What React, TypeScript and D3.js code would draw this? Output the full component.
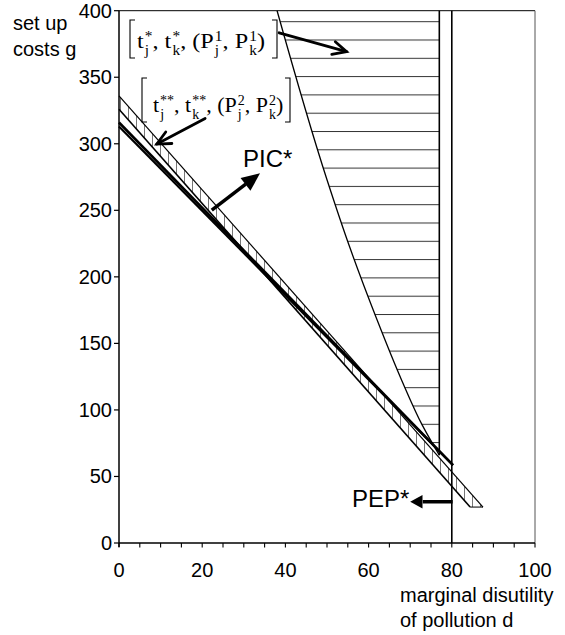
import React from 'react';
import * as d3 from 'd3';

// axis ticks
const xTicks = [0, 20, 40, 60, 80, 100];
const xMinorTicks = [0, 5, 10, 15, 20, 25, 30, 35, 40, 45, 50, 55, 60, 65, 70, 75, 80, 85, 90, 95, 100];
const yTicks = [0, 50, 100, 150, 200, 250, 300, 350, 400];

// steep boundary of the horizontally hatched set
const steepD = [38, 50, 55.5, 62, 68, 73, 77];
const steepG = [400, 273, 222, 168, 122, 88, 66];
const hatchRightD = 77;
const pepD = 80;

// hatched band (second set)
const bandUpperD = [0, 87.5];
const bandUpperG = [336, 27];
const bandLowerD = [0, 84.4];
const bandLowerG = [326, 27];

// PIC* lines
const picAD = [0, 80.3];
const picAG = [316, 58.5];
const picBD = [0, 80.3];
const picBG = [313, 58.5];

// arrows: [fromD, fromG, toD, toG]
const arrowSet1 = [38.5, 383.4, 54.7, 369.2];
const arrowSet2 = [20.7, 319, 9.1, 299.8];
const arrowPic = [22.3, 250.2, 33.9, 277.8];
const arrowPep = [80.2, 31, 70, 31];

const W = 565;
const H = 635;
const sans = 'Liberation Sans, Arial, Helvetica, sans-serif';
const serif = 'Liberation Serif, Times New Roman, serif';

const x = d3.scaleLinear().domain([0, 100]).range([119, 535]);
const y = d3.scaleLinear().domain([0, 400]).range([543, 10.7]);

const zip = (ds: number[], gs: number[]) => ds.map((d, i) => [d, gs[i]] as [number, number]);
const line = d3.line<[number, number]>().x(p => x(p[0])).y(p => y(p[1]));

type Seg = string | { sub: string; sup: string };
const scriptW: Record<string, number> = { j: 0.278, k: 0.5, '*': 0.5, '1': 0.5, '2': 0.5 };
const wOf = (s: string, fs: number) => s.split('').reduce((a, c) => a + (scriptW[c] ?? 0.5) * fs, 0);

const label1: Seg[] = ['t', { sub: 'j', sup: '*' }, ', t', { sub: 'k', sup: '*' }, ', (P', { sub: 'j', sup: '1' }, ', P', { sub: 'k', sup: '1' }, ')'];
const label2: Seg[] = ['t', { sub: 'j', sup: '**' }, ', t', { sub: 'k', sup: '**' }, ', (P', { sub: 'j', sup: '2' }, ', P', { sub: 'k', sup: '2' }, ')'];

function MathLabel({ segs, tx, ty, sx }: { segs: Seg[]; tx: number; ty: number; sx: number }) {
  const fs = 22;
  const ss = 14;
  const spans: React.ReactNode[] = [];
  let pending = 0;
  segs.forEach((s, i) => {
    if (typeof s === 'string') {
      spans.push(<tspan key={i} y={0} dx={pending} fontSize={fs}>{s}</tspan>);
      pending = 0;
    } else {
      const wSub = wOf(s.sub, ss);
      const wSup = wOf(s.sup, ss);
      spans.push(<tspan key={i + 'b'} y={7} dx={pending + 1} fontSize={ss}>{s.sub}</tspan>);
      spans.push(<tspan key={i + 'p'} y={-7} dx={-wSub} fontSize={ss}>{s.sup}</tspan>);
      pending = Math.max(0, wSub - wSup);
    }
  });
  return (
    <g transform={`translate(${tx},${ty}) scale(${sx},1)`}>
      <text x={0} y={0} fontFamily={serif} fill="#000" style={{ whiteSpace: 'pre' }}>{spans}</text>
    </g>
  );
}

function Bracket({ x0, x1, y0, y1 }: { x0: number; x1: number; y0: number; y1: number }) {
  const s = 5;
  return (
    <g stroke="#000" strokeWidth={1.1} fill="none">
      <path d={`M${x0 + s},${y0}H${x0}V${y1}H${x0 + s}`} />
      <path d={`M${x1 - s},${y0}H${x1}V${y1}H${x1 - s}`} />
    </g>
  );
}

function Arrow({ a, filled, width, head, spread }: { a: number[]; filled: boolean; width: number; head: number; spread: number }) {
  const x0 = x(a[0]), y0 = y(a[1]), x1 = x(a[2]), y1 = y(a[3]);
  const ang = Math.atan2(y1 - y0, x1 - x0);
  const hx = (t: number) => x1 - head * Math.cos(ang + t);
  const hy = (t: number) => y1 - head * Math.sin(ang + t);
  if (filled) {
    const bx = x1 - head * 0.9 * Math.cos(ang);
    const by = y1 - head * 0.9 * Math.sin(ang);
    return (
      <g>
        <line x1={x0} y1={y0} x2={bx} y2={by} stroke="#000" strokeWidth={width} />
        <path d={`M${x1},${y1}L${hx(spread)},${hy(spread)}L${hx(-spread)},${hy(-spread)}Z`} fill="#000" />
      </g>
    );
  }
  return (
    <g stroke="#000" strokeWidth={width} fill="none" strokeLinecap="round">
      <line x1={x0} y1={y0} x2={x1} y2={y1} />
      <path d={`M${hx(spread)},${hy(spread)}L${x1},${y1}L${hx(-spread)},${hy(-spread)}`} />
    </g>
  );
}

export default function App() {
  const steepPts = zip(steepD, steepG);
  const steepPath = d3.line<[number, number]>().x(p => x(p[0])).y(p => y(p[1])).curve(d3.curveMonotoneY)(steepPts) || '';
  const regionPath = steepPath + `L${x(hatchRightD)},${y(400)}Z`;
  const up = zip(bandUpperD, bandUpperG);
  const lo = zip(bandLowerD, bandLowerG);
  const bandPath = line([...up, lo[1], lo[0]]) + 'Z';

  return (
    <svg width={W} height={H} style={{ position: 'absolute', left: 0, top: 0, background: '#fff' }}>
      <defs>
        <pattern id="hatchH" patternUnits="userSpaceOnUse" x={0} y={21.2} width={10} height={18.3}>
          <line x1={0} x2={10} y1={0.5} y2={0.5} stroke="#333" strokeWidth={1} />
        </pattern>
        <pattern id="hatchV" patternUnits="userSpaceOnUse" x={0} y={0} width={8} height={10}>
          <line x1={0.5} x2={0.5} y1={0} y2={10} stroke="#777" strokeWidth={1} />
        </pattern>
      </defs>

      {/* hatched set between the steep curve and d = 77 */}
      <path d={regionPath} fill="url(#hatchH)" stroke="none" />
      <path d={steepPath} fill="none" stroke="#000" strokeWidth={1.3} />
      <line x1={x(hatchRightD)} x2={x(hatchRightD)} y1={y(400)} y2={y(steepG[steepG.length - 1])} stroke="#000" strokeWidth={1.6} />

      {/* band */}
      <path d={bandPath} fill="url(#hatchV)" stroke="none" />
      <path d={line(up) || ''} fill="none" stroke="#000" strokeWidth={1.2} />
      <path d={line(lo) || ''} fill="none" stroke="#000" strokeWidth={1.6} />
      <line x1={x(bandLowerD[1])} x2={x(bandUpperD[1])} y1={y(27)} y2={y(27)} stroke="#000" strokeWidth={1} />

      {/* PIC* lines */}
      <path d={line(zip(picAD, picAG)) || ''} fill="none" stroke="#000" strokeWidth={2.6} />
      <path d={line(zip(picBD, picBG)) || ''} fill="none" stroke="#000" strokeWidth={2.2} />

      {/* PEP* vertical */}
      <line x1={x(pepD)} x2={x(pepD)} y1={y(400)} y2={y(0)} stroke="#000" strokeWidth={1.6} />

      {/* frame */}
      <line x1={x(0)} x2={x(100)} y1={y(400)} y2={y(400)} stroke="#000" strokeWidth={1} />
      <line x1={x(100)} x2={x(100)} y1={y(400)} y2={y(0)} stroke="#555" strokeWidth={1} />

      {/* axes */}
      <line x1={x(0)} x2={x(0)} y1={y(400)} y2={y(0) + 4} stroke="#000" strokeWidth={1.5} />
      <line x1={x(0)} x2={x(100)} y1={y(0)} y2={y(0)} stroke="#000" strokeWidth={1.5} />
      {yTicks.map(t => (
        <g key={'y' + t}>
          <line x1={x(0) - 5} x2={x(0)} y1={y(t)} y2={y(t)} stroke="#000" strokeWidth={1.2} />
          <text x={112} y={y(t) + 7} textAnchor="end" fontFamily={sans} fontSize={20}>{t}</text>
        </g>
      ))}
      {xMinorTicks.map(t => (
        <line key={'xm' + t} x1={x(t)} x2={x(t)} y1={y(0)} y2={y(0) + 4.5} stroke="#000" strokeWidth={1.1} />
      ))}
      {xTicks.map(t => (
        <text key={'x' + t} x={x(t)} y={577} textAnchor="middle" fontFamily={sans} fontSize={20}>{t}</text>
      ))}

      {/* axis titles */}
      <text fontFamily={sans} fontSize={20}>
        <tspan x={13} y={30}>set up</tspan>
        <tspan x={13} y={56}>costs g</tspan>
      </text>
      <text fontFamily={sans} fontSize={20}>
        <tspan x={400} y={602}>marginal disutility</tspan>
        <tspan x={400} y={627}>of pollution d</tspan>
      </text>

      {/* set labels */}
      <Bracket x0={130} x1={277} y0={20} y1={58} />
      <MathLabel segs={label1} tx={137} ty={48} sx={1.1} />
      <Bracket x0={142} x1={290} y0={78} y1={122} />
      <MathLabel segs={label2} tx={153} ty={111.7} sx={1.0} />

      <Arrow a={arrowSet1} filled={false} width={2.8} head={15} spread={0.45} />
      <Arrow a={arrowSet2} filled={false} width={2.8} head={15} spread={0.45} />
      <Arrow a={arrowPic} filled={true} width={3.5} head={20} spread={0.42} />
      <Arrow a={arrowPep} filled={true} width={3.5} head={14} spread={0.5} />

      <text x={243} y={166.5} fontFamily={sans} fontSize={24}>PIC*</text>
      <text x={352} y={506.5} fontFamily={sans} fontSize={24}>PEP*</text>
    </svg>
  );
}
